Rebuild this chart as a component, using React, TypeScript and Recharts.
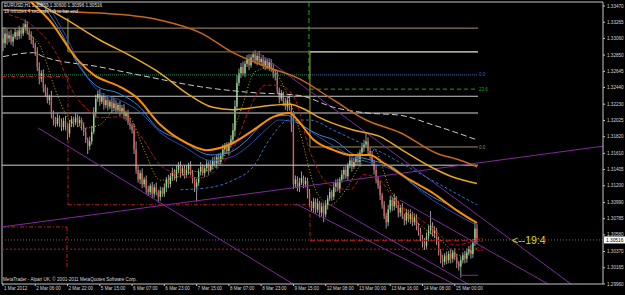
import React from "react";
import { ComposedChart, Bar, Line, XAxis, YAxis, ReferenceLine } from "recharts";

// EURUSD H1 closes (bar 0 = 1 Mar 2012 14:00)
const closes = [
  1.3300, 1.3312, 1.3306, 1.3310, 1.3302, 1.3308, 1.3314, 1.3309, 1.3316, 1.3312, 1.3320, 1.3324, 1.3315, 1.3310, 1.3304, 1.3298, 1.3290, 1.3270, 1.3255, 1.3262,
  1.3244, 1.3238, 1.3228, 1.3232, 1.3210, 1.3203, 1.3198, 1.3206, 1.3200, 1.3194, 1.3202, 1.3196, 1.3186, 1.3198, 1.3204, 1.3200, 1.3206, 1.3199, 1.3203, 1.3196,
  1.3188, 1.3178, 1.3170, 1.3176, 1.3188, 1.3212, 1.3230, 1.3236, 1.3226, 1.3232, 1.3222, 1.3228, 1.3220, 1.3226, 1.3218, 1.3224, 1.3216, 1.3222, 1.3214, 1.3218,
  1.3208, 1.3212, 1.3200, 1.3196, 1.3190, 1.3166, 1.3140, 1.3128, 1.3136, 1.3122, 1.3128, 1.3116, 1.3112, 1.3120, 1.3110, 1.3118, 1.3112, 1.3106, 1.3114, 1.3110,
  1.3118, 1.3128, 1.3122, 1.3132, 1.3138, 1.3130, 1.3140, 1.3146, 1.3136, 1.3142, 1.3134, 1.3140, 1.3146, 1.3136, 1.3128, 1.3118, 1.3124, 1.3138, 1.3144, 1.3136,
  1.3142, 1.3148, 1.3140, 1.3146, 1.3152, 1.3148, 1.3156, 1.3150, 1.3158, 1.3166, 1.3170, 1.3164, 1.3172, 1.3178, 1.3190, 1.3220, 1.3250, 1.3262, 1.3270, 1.3262,
  1.3274, 1.3280, 1.3272, 1.3282, 1.3286, 1.3278, 1.3284, 1.3276, 1.3280, 1.3272, 1.3278, 1.3270, 1.3276, 1.3268, 1.3262, 1.3258, 1.3240, 1.3230, 1.3236, 1.3226,
  1.3220, 1.3228, 1.3218, 1.3198, 1.3122, 1.3128, 1.3118, 1.3124, 1.3130, 1.3122, 1.3126, 1.3110, 1.3098, 1.3092, 1.3100, 1.3090, 1.3098, 1.3086, 1.3094, 1.3084,
  1.3096, 1.3104, 1.3112, 1.3106, 1.3118, 1.3124, 1.3116, 1.3128, 1.3134, 1.3140, 1.3132, 1.3146, 1.3152, 1.3144, 1.3150, 1.3156, 1.3150, 1.3162, 1.3168, 1.3172,
  1.3176, 1.3164, 1.3158, 1.3150, 1.3140, 1.3128, 1.3120, 1.3108, 1.3096, 1.3082, 1.3074, 1.3090, 1.3102, 1.3094, 1.3104, 1.3096, 1.3086, 1.3092, 1.3082, 1.3076,
  1.3086, 1.3078, 1.3084, 1.3074, 1.3080, 1.3070, 1.3062, 1.3054, 1.3048, 1.3044, 1.3056, 1.3064, 1.3070, 1.3060, 1.3064, 1.3050, 1.3036, 1.3028, 1.3024, 1.3032,
  1.3026, 1.3034, 1.3028, 1.3036, 1.3030, 1.3022, 1.3018, 1.3026, 1.3032, 1.3028, 1.3036, 1.3040, 1.3034, 1.3048, 1.3066, 1.3052,
];
const firstOpen = 1.3306;

// wick lengths in pips above / below the body
const upperWicks = [
  14, 8, 6, 5, 7, 4, 5, 3, 6, 4, 5, 6, 4, 3, 5, 4, 3, 5, 6, 4,
  5, 4, 6, 3, 8, 5, 4, 6, 3, 5, 4, 6, 3, 5, 4, 3, 6, 4, 5, 3,
  4, 5, 3, 6, 8, 7, 5, 4, 6, 3, 5, 4, 6, 3, 5, 7, 4, 3, 5, 4,
  5, 3, 4, 6, 3, 8, 10, 5, 4, 6, 3, 5, 4, 3, 5, 4, 6, 3, 5, 4,
  5, 3, 6, 4, 5, 3, 6, 4, 5, 3, 4, 6, 3, 5, 4, 3, 5, 4, 6, 3,
  4, 5, 3, 6, 4, 5, 3, 5, 4, 6, 4, 5, 3, 6, 9, 8, 10, 6, 5, 7,
  4, 5, 6, 4, 3, 5, 4, 6, 3, 5, 4, 3, 5, 4, 6, 5, 8, 4, 5, 3,
  5, 4, 6, 5, 12, 5, 4, 6, 8, 3, 5, 4, 6, 3, 5, 4, 6, 3, 5, 4,
  6, 4, 5, 3, 6, 4, 5, 3, 6, 4, 5, 3, 6, 4, 5, 3, 6, 4, 5, 6,
  10, 5, 4, 6, 3, 5, 4, 6, 3, 5, 4, 6, 5, 4, 6, 3, 5, 4, 6, 3,
  5, 4, 6, 3, 5, 4, 3, 5, 4, 6, 5, 7, 18, 4, 5, 3, 6, 4, 5, 3,
  5, 4, 6, 3, 5, 4, 3, 5, 4, 6, 5, 4, 6, 5, 8, 6,
];
const lowerWicks = [
  10, 6, 8, 5, 4, 6, 3, 5, 4, 6, 3, 5, 4, 6, 5, 4, 6, 5, 7, 4,
  6, 5, 4, 6, 5, 7, 4, 3, 6, 5, 4, 6, 8, 5, 4, 6, 3, 5, 4, 6,
  5, 4, 10, 5, 4, 3, 6, 4, 5, 3, 6, 4, 5, 3, 6, 4, 5, 3, 6, 4,
  4, 6, 3, 5, 4, 6, 5, 4, 6, 5, 4, 6, 5, 4, 6, 5, 4, 7, 5, 4,
  4, 6, 5, 4, 6, 3, 5, 4, 6, 3, 5, 4, 6, 3, 5, 6, 18, 4, 5, 3,
  5, 4, 6, 3, 5, 4, 6, 3, 5, 4, 6, 3, 5, 4, 6, 8, 5, 4, 6, 3,
  5, 4, 6, 3, 5, 4, 6, 3, 5, 4, 6, 3, 5, 4, 6, 5, 4, 6, 3, 5,
  4, 6, 3, 10, 6, 4, 5, 6, 3, 5, 4, 6, 5, 4, 6, 5, 4, 6, 5, 10,
  4, 6, 3, 5, 4, 6, 3, 5, 4, 6, 3, 5, 4, 6, 3, 5, 4, 6, 3, 5,
  4, 6, 5, 4, 6, 5, 4, 6, 5, 4, 8, 5, 4, 6, 5, 4, 6, 5, 4, 6,
  5, 4, 6, 5, 4, 6, 5, 4, 6, 5, 4, 6, 5, 4, 6, 5, 4, 6, 7, 4,
  5, 4, 6, 5, 4, 6, 5, 14, 4, 6, 5, 4, 6, 5, 4, 6,
];

const timeTicks = [0, 16, 32, 48, 64, 80, 96, 112, 128, 144, 160, 176, 192, 208, 224];
const timeLabels = [
  "1 Mar 2012", "2 Mar 06:00", "2 Mar 22:00", "5 Mar 15:00", "6 Mar 07:00", "6 Mar 23:00", "7 Mar 15:00",
  "8 Mar 07:00", "8 Mar 23:00", "9 Mar 15:00", "12 Mar 08:00", "13 Mar 00:00", "13 Mar 16:00", "14 Mar 08:00", "15 Mar 00:00",
];
const priceTicks = [
  1.3347, 1.33265, 1.3306, 1.3285, 1.32645, 1.3244, 1.3223, 1.32025, 1.3182,
  1.3161, 1.31405, 1.312, 1.3099, 1.30785, 1.3058, 1.3037, 1.30165, 1.2996,
];
const currentPrice = 1.30516;

// moving averages: [bar, price]
const maBrown: [number, number][] = [
  [0, 1.3342], [48, 1.3338], [78, 1.3329], [98, 1.3313], [114, 1.3288], [131, 1.327], [147, 1.3255],
  [164, 1.3228], [180, 1.3203], [197, 1.3187], [215, 1.3161], [227, 1.3152], [235, 1.3144],
];
const maGold: [number, number][] = [
  [15, 1.3354], [32, 1.3329], [48, 1.3304], [64, 1.3283], [78, 1.3262], [91, 1.3237], [104, 1.3219],
  [114, 1.3216], [131, 1.3221], [142, 1.3223], [150, 1.3216], [157, 1.3206], [174, 1.319], [187, 1.3182],
  [198, 1.3165], [212, 1.3144], [223, 1.3131], [235, 1.3123],
];
const maOrange: [number, number][] = [
  [13, 1.3354], [23, 1.3329], [37, 1.3279], [45, 1.326], [58, 1.3245], [66, 1.3232], [78, 1.3197],
  [91, 1.3174], [101, 1.3165], [114, 1.3174], [124, 1.319], [134, 1.3207], [142, 1.3212], [146, 1.3203],
  [154, 1.3178], [164, 1.3165], [172, 1.3159], [182, 1.3159], [188, 1.315], [202, 1.3127], [213, 1.3111],
  [225, 1.3089], [235, 1.3073],
];
const maBlue: [number, number][] = [
  [18, 1.3354], [28, 1.3317], [38, 1.327], [47, 1.3245], [57, 1.3237], [68, 1.3219], [76, 1.3194],
  [88, 1.3178], [103, 1.3159], [111, 1.3161], [121, 1.3178], [127, 1.3194], [134, 1.3207], [141, 1.3209],
  [146, 1.32], [157, 1.3184], [164, 1.3178], [174, 1.3159], [183, 1.3152], [193, 1.3144], [203, 1.3123],
  [213, 1.3106], [223, 1.3093], [230, 1.308], [235, 1.3074],
];
const maNavy: [number, number][] = [
  [21, 1.3354], [31, 1.331], [41, 1.326], [48, 1.3238], [58, 1.3228], [68, 1.3213], [78, 1.3187],
  [90, 1.3169], [103, 1.3152], [113, 1.3156], [122, 1.3171], [130, 1.319], [137, 1.3203], [145, 1.32],
  [157, 1.3181], [174, 1.3156], [193, 1.314], [213, 1.3102], [235, 1.307],
];
const maBlueDash: [number, number][] = [
  [88, 1.3115], [103, 1.3118], [114, 1.3127], [124, 1.3144], [132, 1.3178], [142, 1.3203], [152, 1.3203],
  [164, 1.319], [174, 1.3178], [187, 1.3163], [202, 1.3142], [217, 1.3121], [235, 1.3096],
];
const maRed: [number, number][] = [
  [3, 1.3336], [17, 1.3317], [28, 1.3279], [33, 1.3247], [42, 1.3216], [48, 1.3206], [58, 1.3207],
  [68, 1.3184], [78, 1.3146], [88, 1.3134], [98, 1.313], [108, 1.3146], [115, 1.3171], [122, 1.3216],
  [130, 1.3247], [137, 1.3247], [145, 1.3228], [152, 1.3165], [162, 1.3121], [172, 1.3115], [179, 1.3134],
  [187, 1.3127], [194, 1.3102], [204, 1.3083], [214, 1.3064], [224, 1.3045], [234, 1.3051],
];
const maYellow: [number, number][] = [
  [8, 1.3317], [18, 1.3298], [26, 1.3241], [33, 1.3203], [41, 1.3193], [48, 1.3197], [56, 1.3216],
  [63, 1.3206], [70, 1.3165], [78, 1.3127], [85, 1.313], [93, 1.3137], [103, 1.314], [110, 1.3159],
  [118, 1.3216], [125, 1.3264], [132, 1.3269], [140, 1.3241], [147, 1.319], [155, 1.3115], [162, 1.3096],
  [170, 1.3115], [177, 1.3146], [184, 1.3165], [192, 1.3115], [199, 1.3089], [207, 1.307], [217, 1.3051],
  [227, 1.3032], [235, 1.3041],
];
const maGrey: [number, number][] = [
  [0, 1.3283], [15, 1.3288], [20, 1.3283], [48, 1.327], [73, 1.3257], [98, 1.3245], [122, 1.3238],
  [147, 1.3234], [164, 1.3219], [180, 1.3212], [197, 1.3209], [213, 1.3197], [235, 1.3178],
];

// horizontal levels and objects drawn on the chart
const levelPrices = [1.3319, 1.3289, 1.326, 1.3242, 1.3233, 1.3212, 1.3169, 1.3146, 1.304, 1.3051];
const boxPrices = [1.3258, 1.3096, 1.3068, 1.3016, 1.3332, 1.3352, 1.3254];
const objectBars = [-0.5, 31.7, 32.2, 151.7, 152.2, 233, 235.5];
const trendLines: [number, number, number, number][] = [
  [17.4, 1.3193, 143.8, 1.2996],
  [-0.5, 1.3068, 297.5, 1.317],
  [126.4, 1.3288, 281.6, 1.2996],
  [145.3, 1.3097, 226.6, 1.2992],
  [162.1, 1.3096, 230.5, 1.2996],
  [196.8, 1.3102, 270.2, 1.2996],
  [226.6, 1.3007, 235.5, 1.3007],
];
const levelTags = ["0.0", "23.6", "0.0", "38.2", "41.0"];

const candles = closes.map((c, i) => {
  const o = i === 0 ? firstOpen : closes[i - 1];
  return {
    i,
    o,
    c,
    h: Math.max(o, c) + upperWicks[i] / 10000,
    l: Math.min(o, c) - lowerWicks[i] / 10000,
  };
});

const pts = (a: [number, number][]) => a.map(([i, v]) => ({ i, v }));

const FONT = "'Liberation Sans', Arial, sans-serif";
const AXIS = "#c4c4c4";
const PURPLE = "#7d2a9e";
const RED = "#c21c1c";

function Candle(props: any) {
  const { x, y, width, height, payload } = props;
  if (!payload || x == null) return null;
  const top = Math.min(y, y + height);
  const hh = Math.abs(height);
  const k = payload.h === payload.l ? 0 : hh / (payload.h - payload.l);
  const cx = x + width / 2;
  const yo = top + (payload.h - payload.o) * k;
  const yc = top + (payload.h - payload.c) * k;
  const up = payload.c >= payload.o;
  return (
    <g>
      <line x1={cx} x2={cx} y1={top} y2={top + hh} stroke="#9a9a9a" strokeWidth={1} />
      <rect
        x={cx - 0.7}
        y={Math.min(yo, yc)}
        width={1.4}
        height={Math.max(1, Math.abs(yo - yc))}
        fill={up ? "#86dc86" : "#dc5a5a"}
      />
    </g>
  );
}

function TimeTick(props: any) {
  const { x, y, payload } = props;
  const idx = timeTicks.indexOf(payload.value);
  return (
    <text x={x + 1} y={y + 3} fontSize={4.6} fill="#d4d4d4" fontFamily={FONT} textAnchor="start">
      {timeLabels[idx]}
    </text>
  );
}

function PriceTick(props: any) {
  const { x, y, payload } = props;
  return (
    <text x={x} y={y + 1.6} fontSize={4.6} fill="#d4d4d4" fontFamily={FONT} textAnchor="start">
      {payload.value.toFixed(5)}
    </text>
  );
}

function PriceTag(props: any) {
  const vb = props.viewBox;
  if (!vb) return null;
  const x = vb.x + vb.width;
  return (
    <g>
      <rect x={x + 1} y={vb.y - 3.5} width={21} height={7} fill="#ffffff" />
      <text x={x + 3} y={vb.y + 1.7} fontSize={4.8} fill="#000" fontFamily={FONT}>
        {currentPrice.toFixed(5)}
      </text>
      <text x={x - 91} y={vb.y + 3.6} fontSize={10.5} fill="#dede00" fontFamily={FONT}>
        {"<--19:4"}
      </text>
    </g>
  );
}

const tagLabel = (text: string, color: string) => ({
  value: text,
  position: "right" as const,
  offset: 1,
  fill: color,
  fontSize: 4.5,
});

const seg = (x1: number, y1: number, x2: number, y2: number) => [
  { x: x1, y: y1 },
  { x: x2, y: y2 },
];

export default function App() {
  const [L, B, X] = [levelPrices, boxPrices, objectBars];
  const left = X[0];
  const end = X[6];
  return (
    <div style={{ position: "absolute", left: 0, top: 0, width: 625, height: 295, background: "#000", fontFamily: FONT }}>
      <ComposedChart width={625} height={295} data={candles} margin={{ top: 2, right: 0, bottom: 0, left: 2 }}>
        <XAxis
          dataKey="i"
          type="number"
          domain={[-0.5, 297.5]}
          ticks={timeTicks}
          interval={0}
          height={11}
          tickSize={2}
          tickMargin={1}
          stroke={AXIS}
          tick={<TimeTick />}
          allowDataOverflow
        />
        <YAxis
          orientation="right"
          type="number"
          domain={[1.2996, 1.3352]}
          ticks={priceTicks}
          interval={0}
          width={22}
          tickSize={2}
          tickMargin={2}
          stroke={AXIS}
          tick={<PriceTick />}
          allowDataOverflow
        />

        {/* frame */}
        <ReferenceLine x={left} stroke={AXIS} />
        <ReferenceLine y={1.3352} stroke={AXIS} />

        {/* horizontal levels */}
        <ReferenceLine segment={seg(left, L[0], end, L[0])} stroke="#a39476" />
        <ReferenceLine segment={seg(X[2], L[1], end, L[1])} stroke="#8c7f3e" />
        <ReferenceLine segment={seg(X[4], L[1], end, L[1])} stroke="#e6e6e6" />
        <ReferenceLine segment={seg(left, L[2], X[4], L[2])} stroke="#2f8f5a" strokeDasharray="1 1" />
        <ReferenceLine segment={seg(X[4], L[2], end, L[2])} stroke="#3a6ea8" strokeDasharray="1 1" label={tagLabel(levelTags[0], "#3a6ea8")} />
        <ReferenceLine segment={seg(X[4], L[3], end, L[3])} stroke="#22a022" strokeDasharray="4 3" label={tagLabel(levelTags[1], "#22a022")} />
        <ReferenceLine segment={seg(left, L[4], end, L[4])} stroke="#cacaca" />
        <ReferenceLine segment={seg(left, L[5], end, L[5])} stroke="#8e8e8e" strokeWidth={1.5} />
        <ReferenceLine segment={seg(X[4], L[6], end, L[6])} stroke="#9c8a5a" label={tagLabel(levelTags[2], "#9c8a5a")} />
        <ReferenceLine segment={seg(left, L[7], end, L[7])} stroke="#cfcfcf" />
        <ReferenceLine segment={seg(left, L[8], X[5], L[8])} stroke="#b0182a" strokeDasharray="2 2" label={tagLabel(levelTags[4], RED)} />
        <ReferenceLine segment={seg(X[4], L[9], X[5], L[9])} stroke="#a01010" strokeWidth={1.5} strokeDasharray="5 3" label={tagLabel(levelTags[3], RED)} />

        {/* red boxes */}
        <ReferenceLine segment={seg(left, B[0], X[2], B[0])} stroke={RED} strokeDasharray="4 2 1 2" />
        <ReferenceLine segment={seg(X[2], B[0], X[2], B[1])} stroke={RED} strokeDasharray="4 2 1 2" />
        <ReferenceLine segment={seg(X[2], B[1], X[4], B[1])} stroke={RED} strokeDasharray="4 2 1 2" />
        <ReferenceLine segment={seg(X[4], B[1], X[4], L[9])} stroke={RED} strokeDasharray="4 2 1 2" />
        <ReferenceLine segment={seg(left, B[2], X[1], B[2])} stroke={RED} strokeDasharray="4 2 1 2" />
        <ReferenceLine segment={seg(X[1], B[2], X[1], B[3])} stroke={RED} strokeDasharray="4 2 1 2" />

        {/* vertical markers */}
        <ReferenceLine segment={seg(X[2], B[4], X[2], L[1])} stroke="#a6a614" />
        <ReferenceLine segment={seg(X[3], B[5], X[3], B[6])} stroke="#2aa02a" strokeDasharray="5 3" />
        <ReferenceLine segment={seg(X[4], L[1], X[4], L[6])} stroke="#a6a614" />

        {/* trend lines */}
        {trendLines.map((t, k) => (
          <ReferenceLine key={k} segment={seg(t[0], t[1], t[2], t[3])} stroke={PURPLE} ifOverflow="hidden" />
        ))}

        {/* current bid */}
        <ReferenceLine y={currentPrice} stroke="#6a6a6a" strokeDasharray="1 2" label={<PriceTag />} />

        <Line data={pts(maGrey)} dataKey="v" type="monotone" dot={false} stroke="#c8c8c8" strokeWidth={1} strokeDasharray="6 3" isAnimationActive={false} />
        <Line data={pts(maBrown)} dataKey="v" type="monotone" dot={false} stroke="#c9661c" strokeWidth={1.5} isAnimationActive={false} />
        <Line data={pts(maGold)} dataKey="v" type="monotone" dot={false} stroke="#e8a81e" strokeWidth={1.5} isAnimationActive={false} />
        <Line data={pts(maNavy)} dataKey="v" type="monotone" dot={false} stroke="#1f4fb0" strokeWidth={1} isAnimationActive={false} />
        <Line data={pts(maBlue)} dataKey="v" type="monotone" dot={false} stroke="#3a86d8" strokeWidth={1} isAnimationActive={false} />
        <Line data={pts(maBlueDash)} dataKey="v" type="monotone" dot={false} stroke="#2f6fc0" strokeWidth={1} strokeDasharray="3 2" isAnimationActive={false} />

        <Bar dataKey={(d: any) => [d.l, d.h]} shape={<Candle />} barSize={2} isAnimationActive={false} />

        <Line data={pts(maRed)} dataKey="v" type="monotone" dot={false} stroke="#b01414" strokeWidth={1} strokeDasharray="4 2" isAnimationActive={false} />
        <Line data={pts(maYellow)} dataKey="v" type="monotone" dot={false} stroke="#c8b000" strokeWidth={1} strokeDasharray="1 2" isAnimationActive={false} />
        <Line data={pts(maOrange)} dataKey="v" type="monotone" dot={false} stroke="#ff8c00" strokeWidth={2} isAnimationActive={false} />
      </ComposedChart>

      <svg width={625} height={295} style={{ position: "absolute", left: 0, top: 0, pointerEvents: "none" }}>
        <text x={4} y={7} fontSize={4.6} fill="#e0e0e0" fontFamily={FONT}>
          EURUSD,H1  1.30550 1.30600 1.30396 1.30516
        </text>
        <text x={4} y={12.5} fontSize={4.6} fill="#e0e0e0" fontFamily={FONT}>
          19 minutes 4 seconds left to bar end
        </text>
        <text x={3} y={281} fontSize={4.6} fill="#d8d8d8" fontFamily={FONT}>
          MetaTrader - Alpari UK, © 2001-2011 MetaQuotes Software Corp.
        </text>
      </svg>
    </div>
  );
}
